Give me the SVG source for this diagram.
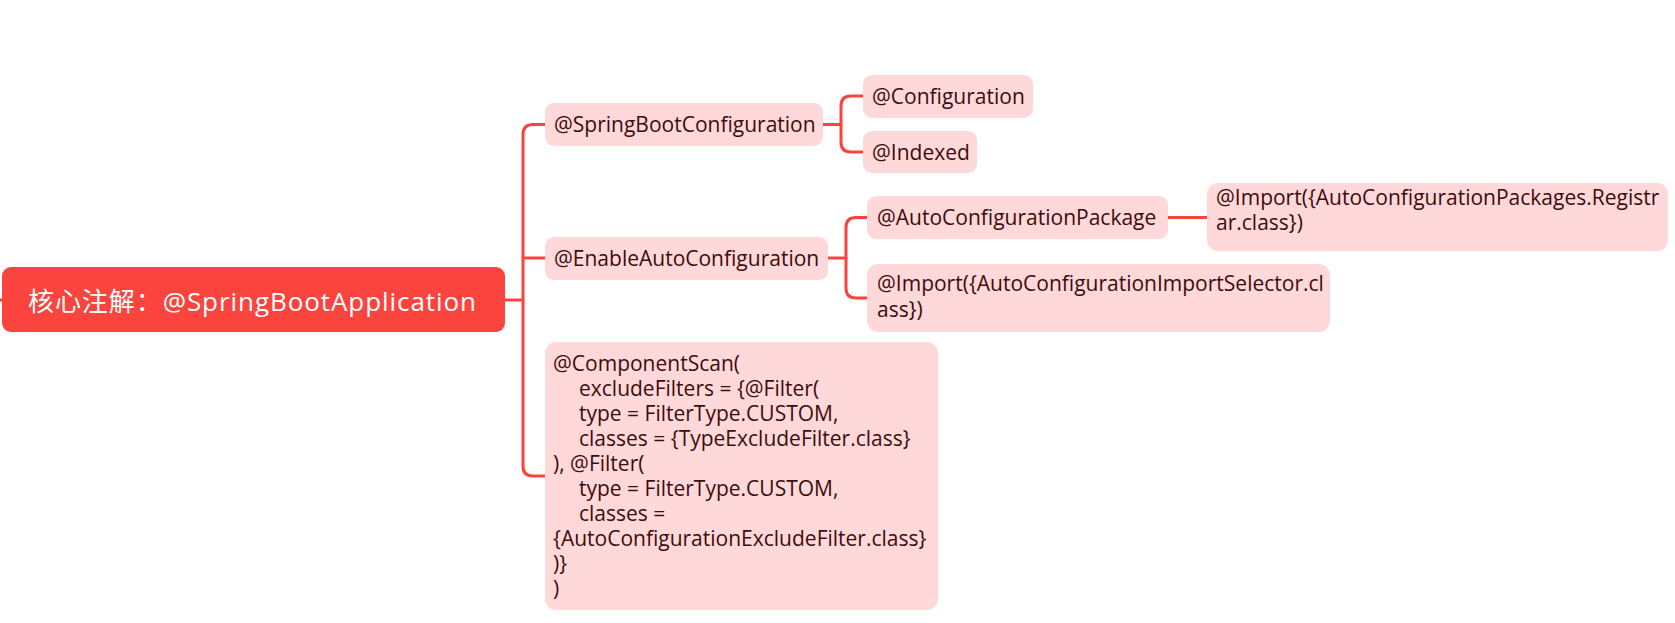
<svg xmlns="http://www.w3.org/2000/svg" width="1675" height="623" viewBox="0 0 1675 623">
<style>
.root{fill:#FA443D}
.node{fill:#FFD9D9}
.rt{font-family:"Open Sans","Noto Sans CJK SC",sans-serif;font-size:26px;fill:#FFFFFF}
.t{font-family:"Open Sans","Noto Sans",sans-serif;font-size:21px;fill:#3F0B0B}
.c{fill:none;stroke:#F9443E;stroke-width:3;stroke-linecap:round}
</style>
<rect width="1675" height="623" fill="#FFFFFF"/>
<g id="connectors">
<path class="c" d="M0,300 H3"/>
<path class="c" d="M505,300 H523"/>
<path class="c" d="M545,124.5 H533 Q523,124.5 523,134.5 V466 Q523,476 533,476 H545"/>
<path class="c" d="M523,258 H545"/>
<path class="c" d="M823,124.5 H841"/>
<path class="c" d="M863,96 H851 Q841,96 841,106 V142 Q841,152 851,152 H863"/>
<path class="c" d="M828,258 H846"/>
<path class="c" d="M867,217.5 H856 Q846,217.5 846,227.5 V288 Q846,298 856,298 H867"/>
<path class="c" d="M1168,217.5 H1207"/>
</g>
<g id="root">
<rect class="root" x="2" y="267" width="503" height="65" rx="9"/>
<text class="rt" x="28" y="311" textLength="448">核心注解：@SpringBootApplication</text>
</g>
<g id="n-sbc">
<rect class="node" x="545" y="103" width="278" height="43" rx="9"/>
<text class="t" x="554" y="131.5">@SpringBootConfiguration</text>
</g>
<g id="n-configuration">
<rect class="node" x="863" y="75" width="170" height="43" rx="9"/>
<text class="t" x="872" y="104">@Configuration</text>
</g>
<g id="n-indexed">
<rect class="node" x="863" y="131" width="114" height="42" rx="9"/>
<text class="t" x="872" y="159.5">@Indexed</text>
</g>
<g id="n-eac">
<rect class="node" x="545" y="237" width="283" height="43" rx="9"/>
<text class="t" x="554" y="265.5">@EnableAutoConfiguration</text>
</g>
<g id="n-acp">
<rect class="node" x="867" y="196" width="301" height="43" rx="9"/>
<text class="t" x="877" y="225">@AutoConfigurationPackage</text>
</g>
<g id="n-registrar">
<rect class="node" x="1207" y="183" width="461" height="68" rx="11"/>
<text class="t" x="1216" y="204.5">@Import({AutoConfigurationPackages.Registr</text>
<text class="t" x="1216" y="230">ar.class})</text>
</g>
<g id="n-selector">
<rect class="node" x="867" y="264" width="463" height="68" rx="11"/>
<text class="t" x="877" y="290.5">@Import({AutoConfigurationImportSelector.cl</text>
<text class="t" x="877" y="316.5">ass})</text>
</g>
<g id="n-componentscan">
<rect class="node" x="545" y="342" width="393" height="268" rx="11"/>
<text class="t" x="553" y="371">@ComponentScan(</text>
<text class="t" x="579" y="396">excludeFilters = {@Filter(</text>
<text class="t" x="579" y="421">type = FilterType.CUSTOM,</text>
<text class="t" x="579" y="446">classes = {TypeExcludeFilter.class}</text>
<text class="t" x="553" y="471">), @Filter(</text>
<text class="t" x="579" y="496">type = FilterType.CUSTOM,</text>
<text class="t" x="579" y="521">classes =</text>
<text class="t" x="553" y="546">{AutoConfigurationExcludeFilter.class}</text>
<text class="t" x="553" y="571">)}</text>
<text class="t" x="553" y="596">)</text>
</g>
</svg>
